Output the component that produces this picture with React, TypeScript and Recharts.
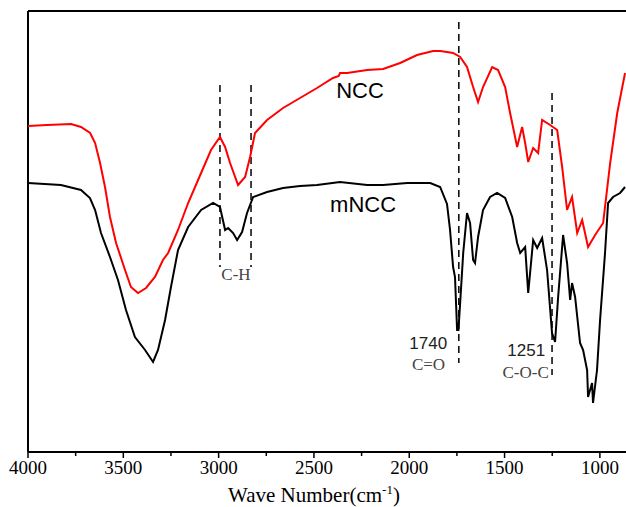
import React from "react";
import { LineChart, Line, XAxis, YAxis, ReferenceLine, ReferenceDot } from "recharts";

// wavenumber (cm-1) and transmittance (a.u.)
const nccWave = [4000, 3900, 3774, 3722, 3674, 3648, 3622, 3596, 3570, 3538, 3491, 3460, 3423, 3381, 3334, 3292, 3265, 3213, 3160, 3092, 3040, 2993, 2966, 2940, 2898, 2861, 2835, 2809, 2746, 2662, 2573, 2484, 2400, 2370, 2363, 2326, 2221, 2137, 2048, 1959, 1875, 1838, 1802, 1770, 1733, 1697, 1665, 1639, 1613, 1565, 1534, 1497, 1471, 1434, 1408, 1392, 1376, 1350, 1324, 1303, 1261, 1224, 1198, 1172, 1146, 1119, 1093, 1062, 1025, 983, 946, 909, 868];
const nccT = [326, 327, 328, 325, 319, 309, 289, 265, 235, 209, 182, 165, 159, 164, 175, 192, 199, 222, 249, 279, 302, 315, 305, 289, 267, 275, 295, 319, 332, 344, 354, 364, 374, 376, 379, 379, 382, 383, 389, 397, 401, 401, 400, 399, 395, 385, 365, 350, 365, 385, 382, 365, 339, 305, 325, 309, 290, 304, 299, 332, 327, 322, 285, 242, 255, 219, 232, 205, 217, 229, 289, 339, 379];

const mnccWave = [4000, 3827, 3722, 3675, 3648, 3617, 3570, 3528, 3486, 3439, 3386, 3344, 3318, 3281, 3250, 3213, 3160, 3092, 3029, 2993, 2966, 2950, 2924, 2903, 2877, 2851, 2819, 2746, 2662, 2573, 2484, 2363, 2221, 2137, 2011, 1890, 1838, 1802, 1786, 1770, 1760, 1749, 1742, 1733, 1717, 1697, 1681, 1665, 1655, 1639, 1613, 1576, 1539, 1497, 1460, 1434, 1418, 1392, 1376, 1350, 1329, 1303, 1277, 1251, 1235, 1219, 1193, 1172, 1156, 1146, 1130, 1104, 1088, 1067, 1062, 1041, 1036, 1015, 999, 973, 957, 931, 894, 868];
const mnccT = [269, 267, 262, 254, 242, 219, 195, 172, 142, 115, 102, 90, 102, 132, 165, 202, 225, 242, 249, 245, 222, 224, 219, 212, 220, 239, 255, 260, 264, 266, 267, 270, 267, 267, 269, 269, 265, 248, 222, 185, 175, 122, 122, 149, 199, 239, 229, 192, 189, 215, 242, 255, 259, 254, 235, 209, 199, 205, 159, 212, 204, 214, 182, 119, 110, 155, 217, 189, 152, 169, 155, 109, 102, 82, 55, 69, 49, 82, 132, 199, 249, 255, 259, 265];

const xTicks = [4000, 3750, 3500, 3250, 3000, 2750, 2500, 2250, 2000, 1750, 1500, 1250, 1000];
const xMax = 4000;
const xMin = 863;
const yMax = 441;

const nccData = nccWave.map((w, i) => ({ w, t: nccT[i] }));
const mnccData = mnccWave.map((w, i) => ({ w, t: mnccT[i] }));

const sans = "'Liberation Sans', Arial, sans-serif";
const serif = "'Liberation Serif', 'Times New Roman', serif";

const Tick = (props: any) => {
  const { x, y, payload } = props;
  const major = payload.value % 500 === 0;
  return (
    <g>
      <line x1={x} x2={x} y1={y} y2={y + (major ? 6 : 4)} stroke="#000" strokeWidth={1.5} />
      {major && (
        <text x={x} y={y + 22} textAnchor="middle" fontFamily={serif} fontSize={19} fill="#000">
          {payload.value}
        </text>
      )}
    </g>
  );
};

const note = (txt: string, font: string, size: number, anchor: string, color: string) => (p: any) => (
  <text x={p.cx} y={p.cy} textAnchor={anchor} fontFamily={font} fontSize={size} fill={color}>
    {txt}
  </text>
);

const AxisTitle = (p: any) => {
  const vb = p.viewBox;
  return (
    <text x={vb.x + vb.width / 2 - 13} y={vb.y + 50} textAnchor="middle" fontFamily={serif} fontSize={21} fill="#000">
      Wave Number(cm
      <tspan dy={-8} fontSize={13}>-1</tspan>
      <tspan dy={8}>)</tspan>
    </text>
  );
};

const dash = { stroke: "#000", strokeWidth: 1.5, strokeDasharray: "7 5" };

export default function App() {
  return (
    <div style={{ position: "absolute", left: 0, top: 0, background: "#fff" }}>
      <LineChart width={626} height={507} margin={{ top: 11, right: 0, left: 28, bottom: 0 }}>
        <XAxis
          dataKey="w"
          type="number"
          domain={[xMin, xMax]}
          reversed
          allowDataOverflow
          ticks={xTicks}
          interval={0}
          tick={<Tick />}
          tickLine={false}
          tickSize={0}
          tickMargin={0}
          height={55}
          axisLine={{ stroke: "#000", strokeWidth: 2 }}
          label={<AxisTitle />}
        />
        <YAxis type="number" domain={[0, yMax]} hide />
        <ReferenceLine x={xMax} stroke="#000" strokeWidth={2} />
        <ReferenceLine y={yMax} stroke="#000" strokeWidth={2} />

        <ReferenceLine segment={[{ x: 2993, y: 367 }, { x: 2993, y: 185 }]} {...dash} />
        <ReferenceLine segment={[{ x: 2830, y: 367 }, { x: 2830, y: 185 }]} {...dash} />
        <ReferenceLine segment={[{ x: 1740, y: 430 }, { x: 1740, y: 89 }]} {...dash} />
        <ReferenceLine segment={[{ x: 1251, y: 359 }, { x: 1251, y: 77 }]} {...dash} />

        <Line data={nccData} dataKey="t" stroke="#ff0000" strokeWidth={2} dot={false} isAnimationActive={false} />
        <Line data={mnccData} dataKey="t" stroke="#000" strokeWidth={2} dot={false} isAnimationActive={false} />

        <ReferenceDot x={2258} y={354} r={0} shape={note("NCC", sans, 22, "middle", "#000")} />
        <ReferenceDot x={2242} y={240} r={0} shape={note("mNCC", sans, 22, "middle", "#000")} />
        <ReferenceDot x={2909} y={172} r={0} shape={note("C-H", serif, 17, "middle", "#444")} />
        <ReferenceDot x={1801} y={103} r={0} shape={note("1740", sans, 17, "end", "#222")} />
        <ReferenceDot x={1812} y={82} r={0} shape={note("C=O", serif, 17, "end", "#444")} />
        <ReferenceDot x={1287} y={96} r={0} shape={note("1251", sans, 17, "end", "#222")} />
        <ReferenceDot x={1268} y={74} r={0} shape={note("C-O-C", serif, 17, "end", "#444")} />
      </LineChart>
    </div>
  );
}
